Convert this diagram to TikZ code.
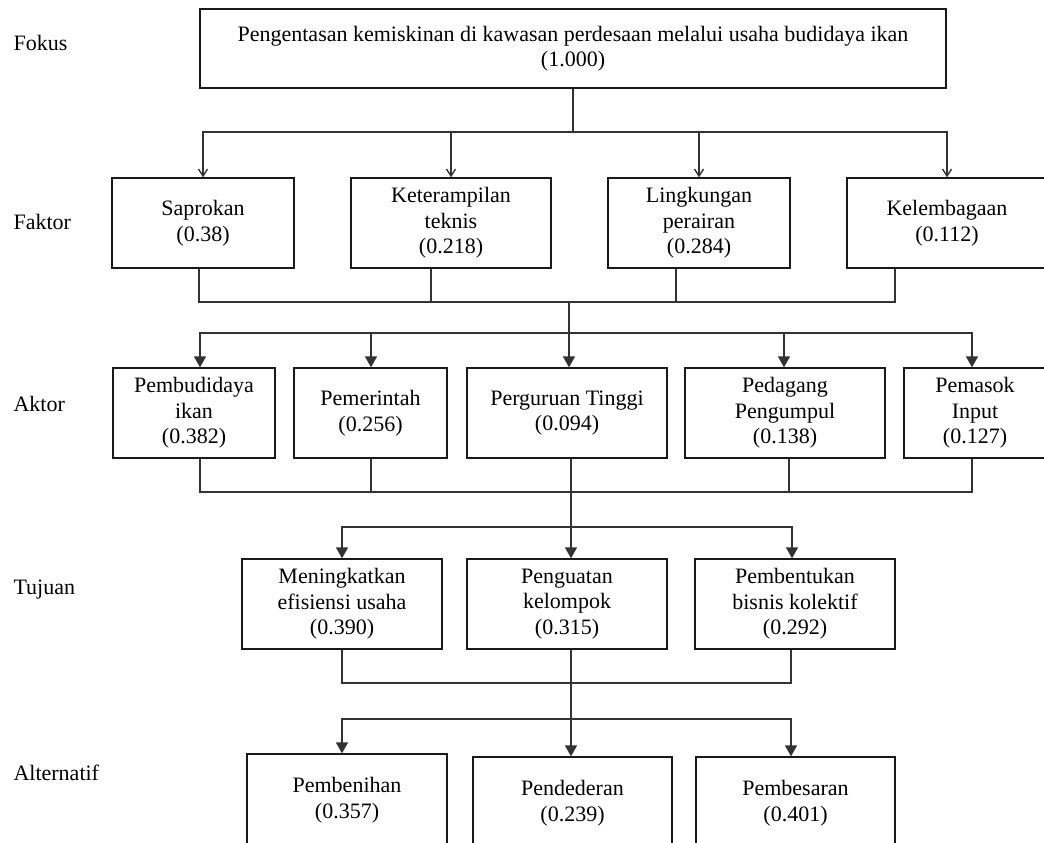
\documentclass[tikz,border=0pt]{standalone}
\usepackage{fontspec}
\setmainfont{Liberation Serif}
\usetikzlibrary{arrows.meta}

\begin{document}
\begin{tikzpicture}[x=1pt,y=-1pt]

  \useasboundingbox (0,0) rectangle (1044,843);

  % node styles
  \tikzset{
    Box/.style={
      shape=rectangle,draw=black!90,line width=1.3pt,
      align=center,inner sep=2pt,minimum height=90pt,
      font=\fontsize{22}{25.5}\selectfont,
      execute at begin node=\rule{0pt}{21pt}},
    Level/.style={anchor=west,font=\fontsize{22}{25.5}\selectfont},
    Line/.style={draw=black!80,line width=1.4pt},
    SmallTip/.style={Line,-{Straight Barb[length=7pt,width=9pt]}},
    BigTip/.style={Line,-{Triangle[length=11pt,width=12pt]}}
  }

  % levels
  \node[Level] (lfok) at (10, 43) {Fokus};
  \node[Level] (lfak) at (10,222) {Faktor};
  \node[Level] (lakt) at (10,404) {Aktor};
  \node[Level] (ltuj) at (10,590) {Tujuan};
  \node[Level] (lalt) at (10,773) {Alternatif};

  % fokus
  \node[Box,minimum width=746pt,minimum height=79pt] (fokus) at (573,48.5)
    {Pengentasan kemiskinan di kawasan perdesaan melalui usaha budidaya ikan\\(1.000)};

  % faktor
  \node[Box,minimum width=182pt] (sap) at (203,223) {Saprokan\\(0.38)};
  \node[Box,minimum width=200pt] (ket) at (451,223) {Keterampilan\\teknis\\(0.218)};
  \node[Box,minimum width=182pt] (lin) at (699,223) {Lingkungan\\perairan\\(0.284)};
  \node[Box,minimum width=200pt] (kel) at (947,223) {Kelembagaan\\(0.112)};

  % aktor
  \node[Box,minimum width=162pt] (bud) at (194,413) {Pembudidaya\\ikan\\(0.382)};
  \node[Box,minimum width=153pt] (pem) at (370.5,413) {Pemerintah\\(0.256)};
  \node[Box,minimum width=200pt] (per) at (567,413) {Perguruan Tinggi\\(0.094)};
  \node[Box,minimum width=200pt] (ped) at (785,413) {Pedagang\\Pengumpul\\(0.138)};
  \node[Box,minimum width=142pt] (pas) at (975,413) {Pemasok\\Input\\(0.127)};

  % tujuan
  \node[Box,minimum width=200pt] (men) at (342,604) {Meningkatkan\\efisiensi usaha\\(0.390)};
  \node[Box,minimum width=200pt] (pen) at (567,604) {Penguatan\\kelompok\\(0.315)};
  \node[Box,minimum width=200pt] (bis) at (795,604) {Pembentukan\\bisnis kolektif\\(0.292)};

  % alternatif
  \node[Box,minimum width=200pt,minimum height=92pt] (ben) at (347,800) {Pembenihan\\(0.357)};
  \node[Box,minimum width=199pt,minimum height=92pt] (ded) at (572.5,803) {Pendederan\\(0.239)};
  \node[Box,minimum width=199pt,minimum height=92pt] (bes) at (795.5,803) {Pembesaran\\(0.401)};

  % junctions
  \coordinate (f0) at (573,132);
  \coordinate (f1) at (569,302);
  \coordinate (a0) at (569,333);
  \coordinate (a1) at (571,492);
  \coordinate (t0) at (571,527);
  \coordinate (t1) at (571,683);
  \coordinate (l0) at (571,719);

  % fokus -> faktor
  \draw[Line] (fokus.south) -- (f0);
  \foreach \n in {sap,ket,lin,kel}
    \draw[SmallTip] (f0) -| (\n.north);

  % faktor -> aktor
  \foreach \n/\s in {sap/-4,ket/-20,lin/-23,kel/-52}
    \draw[Line] ([xshift=\s]\n.south) |- (f1);
  \draw[Line] (f1) -- (a0);
  \foreach \n/\s in {bud/6,pem/0.5,per/2,ped/-1,pas/-3}
    \draw[BigTip] (a0) -| ([xshift=\s]\n.north);

  % aktor -> tujuan
  \foreach \n/\s in {bud/6,pem/0.5,per/4,ped/4,pas/-3}
    \draw[Line] ([xshift=\s]\n.south) |- (a1);
  \draw[Line] (a1) -- (t0);
  \foreach \n/\s in {men/0,pen/4,bis/-3}
    \draw[BigTip] (t0) -| ([xshift=\s]\n.north);

  % tujuan -> alternatif
  \foreach \n/\s in {men/0,pen/4,bis/-4}
    \draw[Line] ([xshift=\s]\n.south) |- (t1);
  \draw[Line] (t1) -- (l0);
  \foreach \n/\s in {ben/-5,ded/-1.5,bes/-4.5}
    \draw[BigTip] (l0) -| ([xshift=\s]\n.north);

\end{tikzpicture}
\end{document}
